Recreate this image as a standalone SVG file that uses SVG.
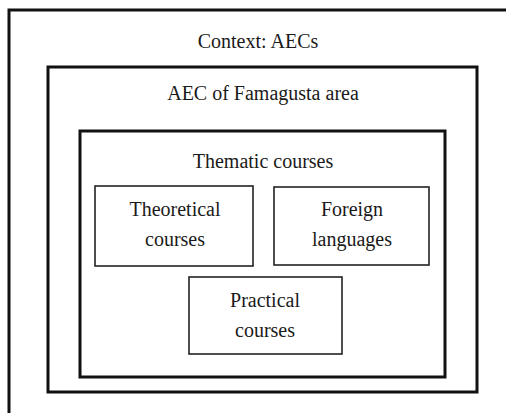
<svg xmlns="http://www.w3.org/2000/svg" width="506" height="413" viewBox="0 0 506 413">
<style>
.frame{fill:none;stroke:#111;stroke-width:3}
.box{fill:none;stroke:#222;stroke-width:1.6}
</style>
<rect width="506" height="413" fill="#fff"/>
<g font-family="Liberation Serif, DejaVu Serif, serif" font-size="20" fill="#1a1a1a" text-anchor="middle">
<g id="context">
<path class="frame" d="M9,420 V10 H520"/>
<text x="258" y="48">Context: AECs</text>
</g>
<g id="aec-famagusta">
<rect class="frame" x="48" y="67" width="429" height="325"/>
<text x="263" y="100">AEC of Famagusta area</text>
</g>
<g id="thematic">
<rect class="frame" x="80" y="131" width="365" height="246"/>
<text x="263" y="168">Thematic courses</text>
</g>
<g id="theoretical">
<rect class="box" x="95" y="186" width="158" height="80"/>
<text x="175" y="216">Theoretical</text>
<text x="175" y="246">courses</text>
</g>
<g id="foreign">
<rect class="box" x="274" y="187" width="155" height="78"/>
<text x="352" y="216">Foreign</text>
<text x="352" y="246">languages</text>
</g>
<g id="practical">
<rect class="box" x="189" y="277" width="153" height="77"/>
<text x="265" y="307">Practical</text>
<text x="265" y="337">courses</text>
</g>
</g>
<g id="connectors"></g>
</svg>
